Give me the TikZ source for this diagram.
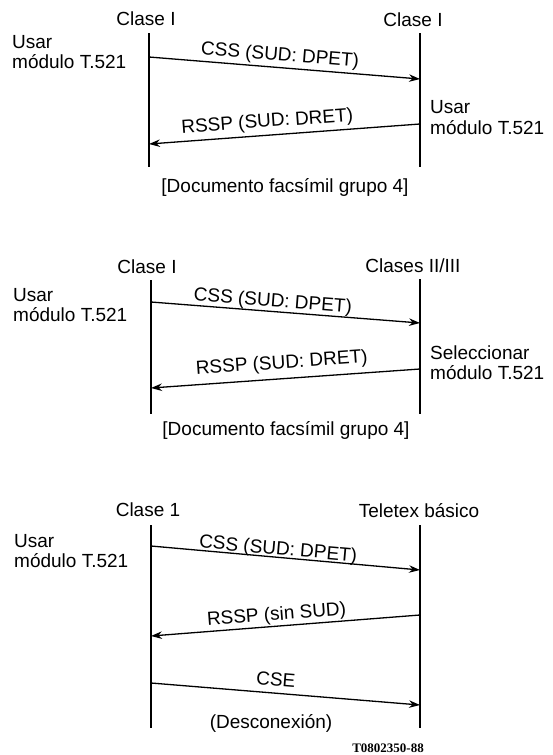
\documentclass[tikz,border=0pt]{standalone}
\usepackage{fontspec}
\setmainfont{Liberation Sans}
\newfontfamily\codefont{Liberation Serif}
\usetikzlibrary{arrows.meta}
\begin{document}
\begin{tikzpicture}[x=1pt,y=-1pt,
  every node/.style={font=\fontsize{19}{20.5}\selectfont, inner sep=0pt},
  life/.style={line width=1.9pt},
  msg/.style={line width=1.3pt, -{Stealth[length=11pt,width=7.5pt]}},
  lab/.style={sloped},
  side/.style={align=left, anchor=west},
]
\useasboundingbox (0,0) rectangle (552,755);

% ---------------- Diagram 1
\coordinate (a1t) at (149,33);  \coordinate (a1b) at (149,167);
\coordinate (b1t) at (420,33);  \coordinate (b1b) at (420,167);
\draw[life] (a1t) -- (a1b);
\draw[life] (b1t) -- (b1b);
\node (ha1) at (146,19) {Clase I};
\node (hb1) at (413,20) {Clase I};
\node[side] (l1) at (12,52) {Usar\\módulo T.521};
\node[side] (r1) at (430,117.5) {Usar\\módulo T.521};
\coordinate (m1s) at (149,57);  \coordinate (m1e) at (420,79);
\draw[msg] (m1s) -- node[lab, pos=0.48, above=2pt] (t1) {CSS (SUD: DPET)} (m1e);
\coordinate (n1s) at (420,124); \coordinate (n1e) at (149,144);
\draw[msg] (n1s) -- node[lab, pos=0.56, above=3.5pt] (u1) {RSSP (SUD: DRET)} (n1e);
\node (f1) at (285,187) {[Documento facsímil grupo 4]};

% ---------------- Diagram 2
\coordinate (a2t) at (151,280); \coordinate (a2b) at (151,414);
\coordinate (b2t) at (420,279); \coordinate (b2b) at (420,414);
\draw[life] (a2t) -- (a2b);
\draw[life] (b2t) -- (b2b);
\node (ha2) at (147,267) {Clase I};
\node (hb2) at (413,266) {Clases II/III};
\node[side] (l2) at (13,305) {Usar\\módulo T.521};
\node[side] (r2) at (430,362.5) {Seleccionar\\módulo T.521};
\coordinate (m2s) at (151,302); \coordinate (m2e) at (420,323);
\draw[msg] (m2s) -- node[lab, pos=0.45, above=0pt] (t2) {CSS (SUD: DPET)} (m2e);
\coordinate (n2s) at (420,369); \coordinate (n2e) at (151,388);
\draw[msg] (n2s) -- node[lab, pos=0.51, above=5.5pt] (u2) {RSSP (SUD: DRET)} (n2e);
\node (f2) at (286,430) {[Documento facsímil grupo 4]};

% ---------------- Diagram 3
\coordinate (a3t) at (151,525); \coordinate (a3b) at (151,728);
\coordinate (b3t) at (420,525); \coordinate (b3b) at (420,728);
\draw[life] (a3t) -- (a3b);
\draw[life] (b3t) -- (b3b);
\node (ha3) at (148,510) {Clase 1};
\node (hb3) at (419,511) {Teletex básico};
\node[side] (l3) at (14,551) {Usar\\módulo T.521};
\coordinate (m3s) at (151,546); \coordinate (m3e) at (420,570);
\draw[msg] (m3s) -- node[lab, pos=0.47, above=-2pt] (t3) {CSS (SUD: DPET)} (m3e);
\coordinate (n3s) at (420,615); \coordinate (n3e) at (151,636);
\draw[msg] (n3s) -- node[lab, pos=0.53, above=1.3pt] (u3) {RSSP (sin SUD)} (n3e);
\coordinate (k3s) at (151,683); \coordinate (k3e) at (420,705);
\draw[msg] (k3s) -- node[lab, pos=0.46, above=6.7pt] (v3) {CSE} (k3e);
\node (d3) at (271,723) {(Desconexión)};
\node[font=\codefont\bfseries\fontsize{13}{14}\selectfont] (code) at (388,748) {T0802350-88};
\end{tikzpicture}
\end{document}
